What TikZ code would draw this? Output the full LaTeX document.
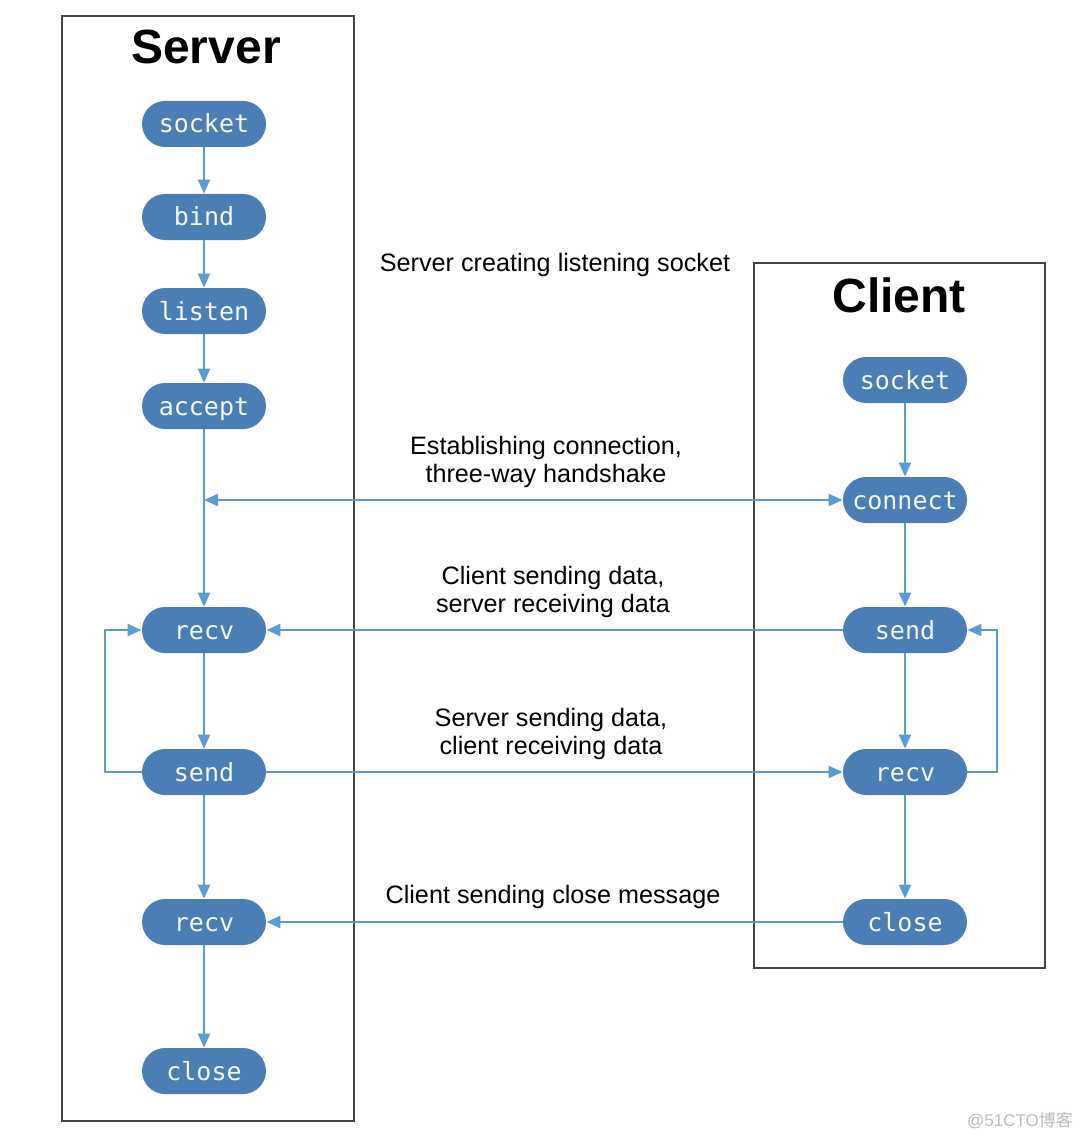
\documentclass[tikz,border=0pt]{standalone}
\usepackage{fontspec}
\setmainfont{Liberation Sans}
\setmonofont{DejaVu Sans Mono}
\newfontfamily\cjkfont{Noto Sans CJK SC}
\usetikzlibrary{positioning, arrows.meta}
\definecolor{callblue}{HTML}{4A7EB5}
\definecolor{flowblue}{HTML}{5B9BD5}
\definecolor{boxgray}{HTML}{444444}
\definecolor{markgray}{HTML}{BBBBBB}

\begin{document}
\begin{tikzpicture}[x=0.5pt, y=-0.5pt,
  >={Triangle[length=7pt, width=6pt]},
  call/.style={fill=callblue, text=white!94!callblue, rounded corners=11.5pt,
    minimum width=62pt, minimum height=23pt, inner sep=0pt,
    text height=9pt, text depth=0pt,
    font=\ttfamily\fontsize{12.5}{14}\selectfont},
  flow/.style={draw=flowblue, line width=1pt, ->},
  side/.style={draw=boxgray, line width=0.8pt},
  title/.style={font=\bfseries\fontsize{24}{28}\selectfont},
  note/.style={font=\fontsize{12.6}{14}\selectfont, align=center}]
  \useasboundingbox (0,0) rectangle (1080,1139);

  % the two sides
  \draw[side] (62,16) rectangle (354,1121);
  \draw[side] (754,263) rectangle (1045,968);
  \node[title] (server) at (206,47) {Server};
  \node[title] (client) at (899,295) {Client};

  % server calls
  \node[call] (s-socket) at (204,124) {socket};
  \node[call] (s-bind)   at (204,217) {bind};
  \node[call] (s-listen) at (204,311) {listen};
  \node[call] (s-accept) at (204,406) {accept};
  \node[call] (s-recv)   at (204,630) {recv};
  \node[call] (s-send)   at (204,772) {send};
  \node[call] (s-recv2)  at (204,922) {recv};
  \node[call] (s-close)  at (204,1071) {close};

  % client calls
  \node[call] (c-socket)  at (905,380) {socket};
  \node[call] (c-connect) at (905,500) {connect};
  \node[call] (c-send)    at (905,630) {send};
  \node[call] (c-recv)    at (905,772) {recv};
  \node[call] (c-close)   at (905,922) {close};

  % messages
  \node[note] (n-listen) at (555,265) {Server creating listening socket};
  \node[note] (n-hand)   at (546,462) {Establishing connection,\\three-way handshake};
  \node[note] (n-cdata)  at (553,592) {Client sending data,\\server receiving data};
  \node[note] (n-sdata)  at (551,734) {Server sending data,\\client receiving data};
  \node[note] (n-close)  at (553,897) {Client sending close message};

  \node[text=markgray, font=\fontsize{8.5}{10}\selectfont] (mark) at (1020,1120)
    {@51CTO\cjkfont 博客};

  % server flow
  \draw[flow] (s-socket) -- (s-bind);
  \draw[flow] (s-bind) -- (s-listen);
  \draw[flow] (s-listen) -- (s-accept);
  \draw[flow] (s-accept) -- (s-recv);
  \draw[flow] (s-recv) -- (s-send);
  \draw[flow] (s-send) -- (s-recv2);
  \draw[flow] (s-recv2) -- (s-close);
  \draw[flow] (s-send.west) -- ++(-37,0) |- (s-recv.west);

  % client flow
  \draw[flow] (c-socket) -- (c-connect);
  \draw[flow] (c-connect) -- (c-send);
  \draw[flow] (c-send) -- (c-recv);
  \draw[flow] (c-recv) -- (c-close);
  \draw[flow] (c-recv.east) -- ++(30,0) |- (c-send.east);

  % between the two
  \coordinate (s-hand) at (s-accept |- c-connect);
  \draw[flow, <->] (s-hand) -- (c-connect);
  \draw[flow] (c-send) -- (s-recv);
  \draw[flow] (s-send) -- (c-recv);
  \draw[flow] (c-close) -- (s-recv2);
\end{tikzpicture}
\end{document}
